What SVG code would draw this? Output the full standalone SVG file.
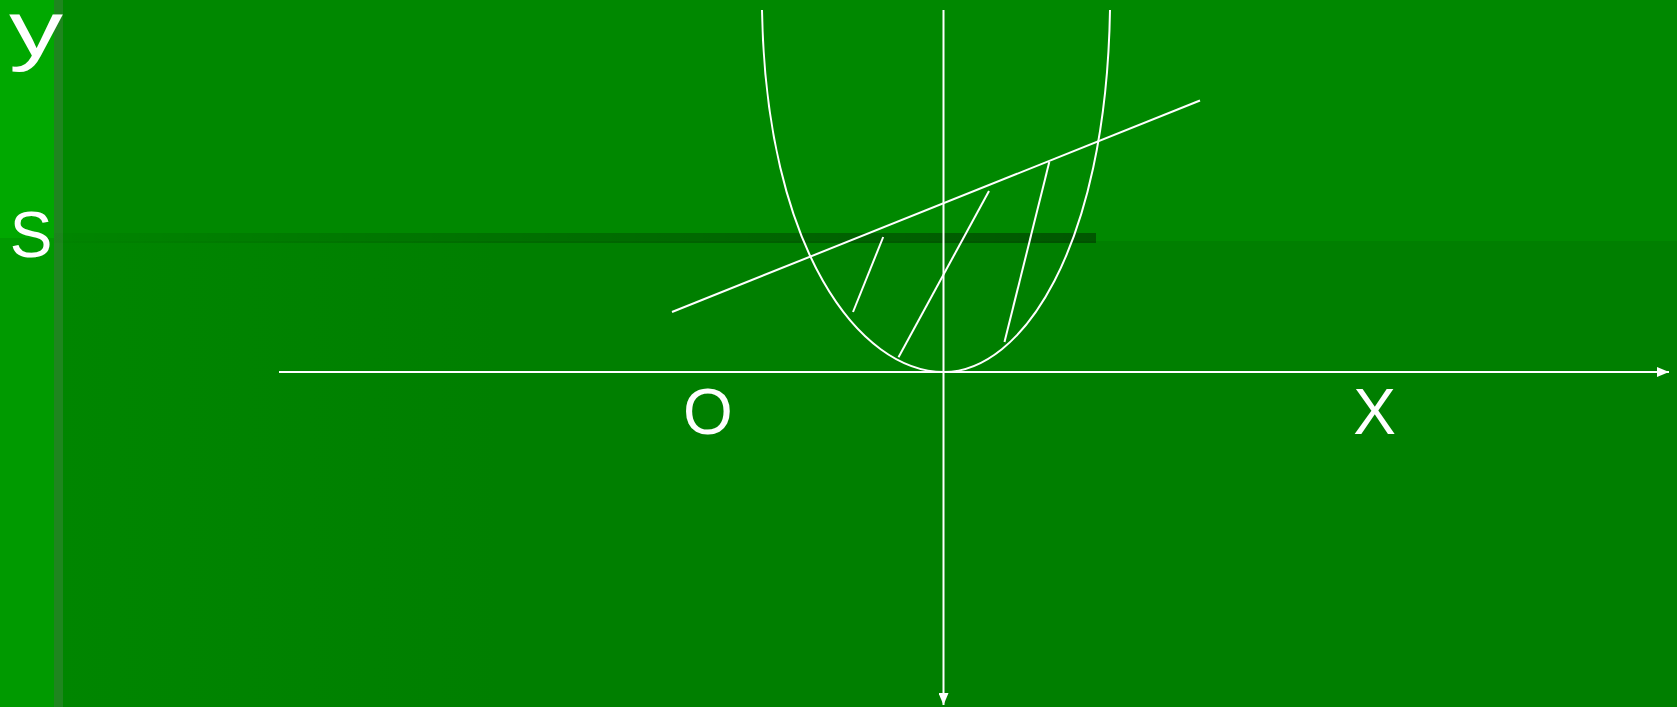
<svg xmlns="http://www.w3.org/2000/svg" width="1677" height="707" viewBox="0 0 1677 707">
<style>
.ln{fill:none;stroke:#ffffff;stroke-width:2}
.ax{fill:none;stroke:#ffffff;stroke-width:2}
.lbl{font-family:"Liberation Sans",Arial,sans-serif;fill:#ffffff;font-size:64px}
</style>
<defs>
<marker id="arr" viewBox="0 0 12 10" refX="12" refY="5" markerWidth="12" markerHeight="10" markerUnits="userSpaceOnUse" orient="auto">
<path d="M0,0 L12,5 L0,10 Z" fill="#ffffff"/>
</marker>
<linearGradient id="band" x1="54" y1="0" x2="1096" y2="0" gradientUnits="userSpaceOnUse">
<stop offset="0" stop-color="#000000" stop-opacity="0.02"/>
<stop offset="1" stop-color="#000000" stop-opacity="0.36"/>
</linearGradient>
<linearGradient id="low" x1="54" y1="0" x2="500" y2="0" gradientUnits="userSpaceOnUse">
<stop offset="0" stop-color="#008600"/>
<stop offset="1" stop-color="#007F00"/>
</linearGradient>
</defs>
<g id="background">
<rect x="0" y="0" width="1677" height="707" fill="url(#low)"/>
<rect x="0" y="0" width="1677" height="241" fill="#008800"/>
<rect x="0" y="0" width="54" height="238" fill="#00A800"/>
<rect x="0" y="238" width="54" height="469" fill="#009A00"/>
<rect x="54" y="0" width="9" height="707" fill="#1E861E"/>
<rect x="54" y="233" width="1042" height="10" fill="url(#band)"/>
</g>
<g id="axes">
<line class="ax" x1="279" y1="372" x2="1669" y2="372" marker-end="url(#arr)"/>
<line class="ax" x1="943.5" y1="10" x2="943.5" y2="705" marker-end="url(#arr)"/>
</g>
<g id="curve">
<path class="ln" d="M762,10 C766,250 860,372 944,372 C1021,372 1106,250 1110,10"/>
</g>
<g id="connectors">
<line class="ln" x1="672" y1="312" x2="1200" y2="100.5"/>
<line class="ln" x1="883.2" y1="237" x2="853" y2="312"/>
<line class="ln" x1="989" y1="191" x2="898.5" y2="357.3"/>
<line class="ln" x1="1049.3" y1="162" x2="1004.5" y2="342"/>
</g>
<g id="labels">
<text class="lbl" x="9" y="55.5" style="font-size:78px" textLength="54" lengthAdjust="spacingAndGlyphs">y</text>
<text class="lbl" x="31" y="257" text-anchor="middle">S</text>
<text class="lbl" x="708" y="434" text-anchor="middle">O</text>
<text class="lbl" x="1374.5" y="434" text-anchor="middle">X</text>
</g>
</svg>
